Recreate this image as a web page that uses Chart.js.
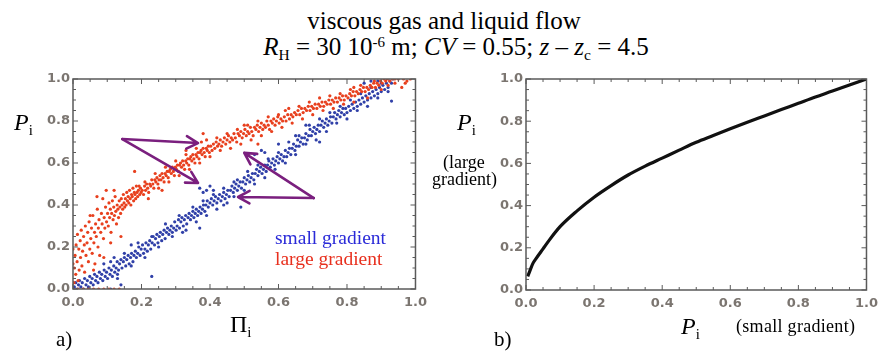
<!DOCTYPE html>
<html><head><meta charset="utf-8">
<script src="https://cdn.jsdelivr.net/npm/chart.js@4.4.1/dist/chart.umd.min.js"></script>
<style>
body{margin:0;background:#fff;width:878px;height:354px;position:relative;overflow:hidden;font-family:"Liberation Serif","DejaVu Serif",serif;}
.t{position:absolute;white-space:nowrap;color:#000;line-height:1;}
.sub{font-size:62%;position:relative;top:0.32em;font-style:normal;}
.sup{font-size:60%;position:relative;top:-0.55em;}
canvas{position:absolute;}
</style></head><body>
<div class="t" style="left:0;width:888px;text-align:center;top:8px;font-size:25px;">viscous gas and liquid flow</div>
<div class="t" style="left:0;width:912px;text-align:center;top:34px;font-size:25px;"><i>R</i><span class="sub">H</span> = 30 10<span class="sup">-6</span> m; <i>CV</i> = 0.55; <i>z</i> – <i>z</i><span class="sub">c</span> = 4.5</div>

<canvas id="left" width="413" height="250" style="left:20px;top:67px;"></canvas>
<canvas id="right" width="414" height="250" style="left:470px;top:67px;"></canvas>

<div class="t" style="left:14px;top:110px;font-size:24px;"><i>P</i><span class="sub">i</span></div>
<div class="t" style="left:230px;top:312px;font-size:24px;">Π<span class="sub">i</span></div>
<div class="t" style="left:56px;top:329px;font-size:21px;">a)</div>
<div class="t" style="left:275px;top:228px;font-size:19.5px;color:#2a2ad8;">small gradient</div>
<div class="t" style="left:275px;top:249px;font-size:19.5px;color:#e8301e;">large gradient</div>

<div class="t" style="left:457px;top:110px;font-size:24px;"><i>P</i><span class="sub">i</span></div>
<div class="t" style="left:443px;top:153px;font-size:18px;">(large</div>
<div class="t" style="left:432px;top:170px;font-size:18px;">gradient)</div>
<div class="t" style="left:681px;top:314px;font-size:24px;"><i>P</i><span class="sub">i</span></div>
<div class="t" style="left:736px;top:317px;font-size:18px;letter-spacing:0.3px;">(small gradient)</div>
<div class="t" style="left:494px;top:329px;font-size:21px;">b)</div>

<script>
const tickValues = [0, 0.2, 0.4, 0.6, 0.8, 1.0];
const minorTickValues = [0.05,0.1,0.15,0.25,0.3,0.35,0.45,0.5,0.55,0.65,0.7,0.75,0.85,0.9,0.95];

const largeGradient = [
[0.003,0.03],[0.004,0.10],[0.006,0.16],[0.008,0.07],[0.009,0.21],[0.012,0.13],[0.013,0.26],[0.015,0.04],[0.017,0.19],[0.018,0.09],
[0.021,0.23],[0.022,0.15],[0.024,0.28],[0.026,0.11],[0.028,0.18],[0.031,0.25],[0.033,0.21],[0.034,0.08],[0.036,0.30],[0.038,0.16],
[0.041,0.22],[0.043,0.27],[0.045,0.13],[0.047,0.32],[0.049,0.19],[0.052,0.24],[0.054,0.29],[0.056,0.17],[0.058,0.35],[0.061,0.22],
[0.063,0.27],[0.064,0.12],[0.066,0.31],[0.068,0.25],[0.071,0.38],[0.073,0.20],[0.074,0.29],[0.076,0.33],[0.078,0.16],[0.081,0.27],
[0.083,0.36],[0.085,0.31],[0.087,0.43],[0.089,0.24],[0.091,0.34],[0.093,0.29],[0.095,0.39],[0.097,0.47],[0.098,0.32],
[0.101,0.36],[0.103,0.30],[0.105,0.41],[0.107,0.34],[0.109,0.38],[0.111,0.27],[0.113,0.36],[0.115,0.42],[0.117,0.33],[0.119,0.39],
[0.121,0.35],[0.123,0.44],[0.125,0.37],[0.127,0.31],[0.129,0.40],[0.131,0.38],[0.133,0.34],[0.135,0.42],[0.137,0.39],[0.139,0.36],
[0.141,0.43],[0.143,0.40],[0.145,0.38],[0.147,0.45],[0.149,0.41],[0.151,0.39],[0.153,0.43],[0.155,0.40],[0.157,0.46],[0.159,0.42],
[0.161,0.44],[0.163,0.41],[0.165,0.47],[0.167,0.43],[0.169,0.40],[0.171,0.45],[0.173,0.44],[0.175,0.48],[0.177,0.42],[0.179,0.46],
[0.181,0.45],[0.183,0.43],[0.185,0.49],[0.187,0.46],[0.189,0.44],[0.191,0.47],[0.193,0.49],[0.195,0.45],[0.197,0.48],[0.199,0.46],
[0.202,0.47],[0.206,0.45],[0.209,0.49],[0.212,0.47],[0.215,0.50],[0.218,0.48],[0.221,0.46],[0.224,0.50],[0.227,0.49],[0.23,0.52],
[0.233,0.50],[0.236,0.48],[0.239,0.52],[0.242,0.51],[0.245,0.53],[0.248,0.50],[0.251,0.52],[0.254,0.54],[0.257,0.52],[0.26,0.55],
[0.263,0.53],[0.266,0.51],[0.269,0.55],[0.272,0.54],[0.275,0.56],[0.278,0.53],[0.281,0.56],[0.284,0.57],[0.287,0.55],[0.29,0.58],
[0.293,0.56],[0.296,0.54],[0.299,0.58],[0.302,0.57],[0.305,0.59],[0.308,0.56],[0.311,0.59],[0.314,0.60],[0.317,0.58],[0.32,0.61],
[0.323,0.59],[0.326,0.57],[0.329,0.61],[0.332,0.60],[0.335,0.62],[0.338,0.59],[0.341,0.62],[0.344,0.63],[0.347,0.61],[0.35,0.64],
[0.353,0.62],[0.356,0.60],[0.359,0.64],[0.362,0.63],[0.365,0.65],[0.368,0.62],[0.371,0.65],[0.374,0.66],[0.377,0.64],[0.38,0.67],
[0.383,0.65],[0.386,0.63],[0.389,0.67],[0.392,0.66],[0.395,0.68],[0.398,0.65],
[0.402,0.68],[0.406,0.66],[0.41,0.69],[0.414,0.67],[0.418,0.70],[0.422,0.68],[0.426,0.69],[0.43,0.71],[0.434,0.68],[0.438,0.70],
[0.442,0.72],[0.446,0.69],[0.45,0.71],[0.454,0.73],[0.458,0.70],[0.462,0.72],[0.466,0.71],[0.47,0.74],[0.474,0.72],[0.478,0.70],
[0.482,0.74],[0.486,0.73],[0.49,0.75],[0.494,0.72],[0.498,0.74],[0.502,0.76],[0.506,0.73],[0.51,0.75],[0.514,0.74],[0.518,0.77],
[0.522,0.75],[0.526,0.73],[0.53,0.77],[0.534,0.76],[0.538,0.78],[0.542,0.75],[0.546,0.77],[0.55,0.79],[0.554,0.76],[0.558,0.78],
[0.562,0.77],[0.566,0.80],[0.57,0.78],[0.574,0.76],[0.578,0.80],[0.582,0.79],[0.586,0.81],[0.59,0.78],[0.594,0.80],[0.598,0.82],
[0.602,0.79],[0.607,0.81],[0.612,0.80],[0.617,0.82],[0.622,0.80],[0.627,0.83],[0.632,0.81],[0.637,0.83],[0.642,0.82],[0.647,0.84],
[0.652,0.83],[0.657,0.85],[0.662,0.83],[0.667,0.86],[0.672,0.84],[0.677,0.86],[0.682,0.85],[0.687,0.87],[0.692,0.85],[0.697,0.87],
[0.702,0.86],[0.707,0.88],[0.712,0.86],[0.717,0.88],[0.722,0.87],[0.727,0.89],[0.732,0.87],[0.737,0.89],[0.742,0.88],[0.747,0.90],
[0.752,0.88],[0.757,0.90],[0.762,0.89],[0.767,0.91],[0.772,0.89],[0.777,0.91],[0.782,0.90],[0.787,0.92],[0.792,0.90],[0.797,0.92],
[0.803,0.91],[0.808,0.93],[0.813,0.92],[0.818,0.94],[0.823,0.92],[0.828,0.94],[0.833,0.93],[0.838,0.95],[0.843,0.94],[0.848,0.96],
[0.853,0.94],[0.858,0.96],[0.863,0.95],[0.868,0.97],[0.873,0.96],[0.878,0.98],[0.883,0.96],[0.888,0.98],[0.893,0.97],[0.898,0.99],
[0.903,0.98],[0.908,1.0],[0.913,0.99],[0.918,1.0],[0.925,0.99],[0.932,1.0],[0.94,1.0],[0.95,1.0],[0.965,1.0],[0.975,0.99],[0.985,1.0],
[0.21,0.51],[0.22,0.43],[0.24,0.55],[0.25,0.48],[0.27,0.58],[0.28,0.51],[0.3,0.61],[0.31,0.54],[0.33,0.64],[0.34,0.57],
[0.36,0.67],[0.37,0.60],[0.39,0.71],[0.4,0.63],[0.42,0.72],[0.43,0.66],[0.45,0.74],[0.46,0.67],[0.48,0.76],[0.49,0.69],
[0.51,0.78],[0.52,0.71],[0.54,0.80],[0.55,0.73],[0.57,0.82],[0.58,0.75],[0.6,0.83],[0.61,0.77],[0.63,0.86],[0.64,0.79],
[0.66,0.87],[0.67,0.81],[0.69,0.89],[0.7,0.83],[0.72,0.91],[0.73,0.85],[0.75,0.92],[0.76,0.86],[0.78,0.93],[0.79,0.88],
[0.81,0.95],[0.82,0.89],[0.84,0.97],[0.86,0.91],[0.88,0.99],[0.9,0.95],[0.92,0.97],[0.94,0.98],[0.97,0.98],
[0.18,0.56],[0.12,0.47],[0.07,0.44],[0.05,0.35],[0.26,0.47],[0.33,0.66],[0.38,0.74],[0.375,0.70],[0.54,0.69],[0.5,0.78],
[0.62,0.85],[0.82,0.96],[0.96,0.96],[0.14,0.25],[0.11,0.22],[0.09,0.15],[0.06,0.09],[0,0.12],[0,0.19],
[0,0],[0.015,0],[0.03,0],[0.045,0],[0.06,0],[0.075,0],[0.09,0],[0.105,0],[0.12,0],[0.135,0]
];

const smallGradient = [
[0.004,0.01],[0.008,0.03],[0.012,0],[0.016,0.02],[0.019,0.04],[0.023,0.01],[0.027,0.03],[0.031,0],[0.034,0.05],[0.038,0.02],
[0.042,0.04],[0.045,0.01],[0.049,0.06],[0.052,0.03],[0.056,0.05],[0.059,0.02],[0.063,0.07],[0.066,0.04],[0.07,0.06],[0.073,0.03],
[0.077,0.08],[0.08,0.05],[0.084,0.07],[0.087,0.04],[0.091,0.09],[0.094,0.06],[0.098,0.08],[0.101,0.05],[0.105,0.10],[0.108,0.07],
[0.112,0.09],[0.115,0.06],[0.119,0.11],[0.122,0.08],[0.126,0.10],[0.129,0.13],[0.133,0.09],[0.136,0.12],[0.14,0.14],[0.143,0.10],
[0.147,0.13],[0.15,0.15],[0.154,0.11],[0.157,0.14],[0.161,0.16],[0.164,0.12],[0.168,0.15],[0.171,0.17],[0.175,0.13],[0.178,0.16],
[0.182,0.18],[0.185,0.15],[0.189,0.17],[0.192,0.20],[0.196,0.16],[0.199,0.19],
[0.203,0.21],[0.206,0.17],[0.21,0.19],[0.213,0.22],[0.217,0.18],[0.22,0.21],[0.224,0.23],[0.227,0.19],[0.231,0.22],[0.234,0.25],
[0.238,0.21],[0.241,0.24],[0.245,0.26],[0.248,0.22],[0.252,0.25],[0.255,0.27],[0.259,0.23],[0.262,0.26],[0.266,0.28],[0.269,0.24],
[0.273,0.27],[0.276,0.29],[0.28,0.26],[0.283,0.28],[0.287,0.30],[0.29,0.27],[0.294,0.29],[0.297,0.32],[0.301,0.28],[0.304,0.30],
[0.308,0.33],[0.311,0.29],[0.315,0.32],[0.318,0.34],[0.322,0.30],[0.325,0.33],[0.329,0.35],[0.332,0.31],[0.336,0.34],[0.339,0.36],
[0.343,0.33],[0.346,0.35],[0.35,0.37],[0.353,0.34],[0.357,0.36],[0.36,0.38],[0.364,0.35],[0.367,0.37],[0.371,0.39],[0.374,0.36],
[0.378,0.38],[0.381,0.40],[0.385,0.37],[0.388,0.40],[0.392,0.42],[0.395,0.39],
[0.4,0.41],[0.404,0.43],[0.408,0.40],[0.412,0.42],[0.416,0.44],[0.42,0.41],[0.424,0.43],[0.428,0.45],[0.432,0.42],[0.436,0.44],
[0.44,0.46],[0.444,0.43],[0.448,0.45],[0.452,0.47],[0.456,0.44],[0.46,0.47],[0.464,0.49],[0.468,0.46],[0.472,0.48],[0.476,0.50],
[0.48,0.47],[0.484,0.49],[0.488,0.51],[0.492,0.48],[0.496,0.51],[0.5,0.53],[0.504,0.50],[0.508,0.52],[0.512,0.54],[0.516,0.51],
[0.52,0.53],[0.524,0.55],[0.528,0.52],[0.532,0.55],[0.536,0.57],[0.54,0.54],[0.544,0.56],[0.548,0.58],[0.552,0.55],[0.556,0.57],
[0.56,0.59],[0.564,0.56],[0.568,0.59],[0.572,0.61],[0.576,0.58],[0.58,0.60],[0.584,0.62],[0.588,0.59],[0.592,0.61],[0.596,0.63],
[0.6,0.60],[0.604,0.62],[0.608,0.64],[0.612,0.61],[0.616,0.63],[0.62,0.66],[0.624,0.63],[0.628,0.65],[0.632,0.67],[0.636,0.64],
[0.64,0.67],[0.644,0.69],[0.648,0.66],[0.652,0.68],[0.656,0.71],[0.66,0.68],[0.664,0.70],[0.668,0.72],[0.672,0.69],[0.676,0.72],
[0.68,0.74],[0.684,0.71],[0.688,0.73],[0.692,0.76],[0.696,0.73],[0.7,0.75],[0.704,0.77],[0.708,0.74],[0.712,0.76],[0.716,0.78],
[0.72,0.75],[0.724,0.78],[0.728,0.80],[0.732,0.77],[0.736,0.79],[0.74,0.81],[0.744,0.78],[0.748,0.80],[0.752,0.82],[0.756,0.79],
[0.76,0.82],[0.764,0.84],[0.768,0.81],[0.772,0.83],[0.776,0.85],[0.78,0.82],[0.784,0.84],[0.788,0.86],[0.792,0.83],[0.796,0.86],
[0.8,0.84],[0.805,0.87],[0.81,0.85],[0.815,0.88],[0.82,0.86],[0.825,0.89],[0.83,0.87],[0.835,0.90],[0.84,0.88],[0.845,0.91],
[0.85,0.89],[0.855,0.92],[0.86,0.90],[0.865,0.93],[0.87,0.91],[0.875,0.94],[0.88,0.92],[0.885,0.95],[0.89,0.93],[0.895,0.96],
[0.9,0.94],[0.905,0.97],[0.91,0.95],[0.915,0.98],[0.92,0.96],[0.925,0.99],[0.93,0.98],[0.935,1.0],
[0.11,0.13],[0.13,0.07],[0.15,0.17],[0.17,0.11],[0.19,0.22],[0.21,0.15],[0.23,0.25],[0.25,0.20],[0.27,0.31],[0.29,0.25],
[0.31,0.35],[0.33,0.28],[0.35,0.39],[0.36,0.32],[0.38,0.42],[0.39,0.35],[0.41,0.45],[0.42,0.38],[0.44,0.48],[0.45,0.41],
[0.47,0.44],[0.48,0.52],[0.5,0.47],[0.51,0.56],[0.53,0.50],[0.54,0.59],[0.56,0.53],[0.57,0.62],[0.59,0.57],[0.6,0.65],
[0.62,0.60],[0.63,0.70],[0.65,0.64],[0.66,0.73],[0.68,0.69],[0.69,0.78],[0.71,0.71],[0.72,0.81],[0.74,0.75],[0.75,0.84],
[0.77,0.79],[0.78,0.87],[0.8,0.81],[0.81,0.90],[0.83,0.85],[0.84,0.93],[0.86,0.87],[0.87,0.96],[0.89,0.91],[0.9,0.98],[0.92,0.94],
[0.23,0.06],[0.37,0.29],[0.49,0.39],[0.37,0.48],[0.39,0.47],[0.4,0.49],[0.38,0.46],[0.56,0.65],[0.55,0.66],[0.53,0.64],
[0.93,0.895],[0.85,0.98],[0.11,0],[0.13,0.05],[0.14,0.02],[0.09,0.12],[0.12,0.15],[0.17,0.21],[0.32,0.27],[0.44,0.40],
[0.47,0.51],[0.6,0.69],[0.68,0.78],[0.87,0.99],[0.41,0.47],[0.65,0.73],[0.72,0.70],[0.89,0.99]
];

const curveP = [
[0.005,0.065],[0.01,0.085],[0.02,0.125],[0.03,0.15],[0.05,0.195],[0.07,0.24],[0.1,0.30],[0.15,0.375],[0.2,0.44],
[0.25,0.495],[0.3,0.545],[0.35,0.587],[0.4,0.625],[0.45,0.663],[0.5,0.70],[0.55,0.732],[0.6,0.764],[0.65,0.795],
[0.7,0.825],[0.75,0.855],[0.8,0.885],[0.85,0.915],[0.9,0.943],[0.95,0.972],[1.0,1.0]
];

const arrowFrom = [[0.144,0.714],[0.144,0.714],[0.703,0.433],[0.703,0.433]];
const arrowTo   = [[0.365,0.695],[0.365,0.505],[0.5,0.648],[0.482,0.438]];

const toXY = a => a.map(p => ({x:p[0], y:p[1]}));

const framePlugin = {
  id:'frame',
  afterDraw(chart){
    const {ctx, chartArea:a, scales:{x,y}} = chart;
    ctx.save();
    ctx.strokeStyle = '#5a5a5a';
    ctx.lineWidth = 1.5;
    ctx.strokeRect(a.left, a.top, a.right-a.left, a.bottom-a.top);
    ctx.lineWidth = 1;
    const drawT = (vals, len) => {
      ctx.beginPath();
      vals.forEach(v => {
        const px = x.getPixelForValue(v), py = y.getPixelForValue(v);
        ctx.moveTo(px, a.bottom); ctx.lineTo(px, a.bottom-len);
        ctx.moveTo(px, a.top); ctx.lineTo(px, a.top+len);
        ctx.moveTo(a.left, py); ctx.lineTo(a.left+len, py);
        ctx.moveTo(a.right, py); ctx.lineTo(a.right-len, py);
      });
      ctx.stroke();
    };
    drawT(tickValues, 5);
    drawT(minorTickValues, 3);
    ctx.restore();
  }
};

const arrowPlugin = {
  id:'arrows',
  afterDatasetsDraw(chart){
    const {ctx, scales:{x,y}} = chart;
    ctx.save();
    ctx.strokeStyle = '#7a1f7e';
    ctx.lineWidth = 2.6;
    ctx.lineCap = 'round';
    ctx.lineJoin = 'round';
    arrowFrom.forEach((f,i) => {
      const t = arrowTo[i];
      const x0 = x.getPixelForValue(f[0]), y0 = y.getPixelForValue(f[1]);
      const x1 = x.getPixelForValue(t[0]), y1 = y.getPixelForValue(t[1]);
      const ang = Math.atan2(y1-y0, x1-x0);
      const L = 13, w = 0.5;
      ctx.beginPath();
      ctx.moveTo(x0,y0); ctx.lineTo(x1,y1);
      ctx.moveTo(x1 - L*Math.cos(ang-w), y1 - L*Math.sin(ang-w));
      ctx.lineTo(x1,y1);
      ctx.lineTo(x1 - L*Math.cos(ang+w), y1 - L*Math.sin(ang+w));
      ctx.stroke();
    });
    ctx.restore();
  }
};

function scales(yWidth, xHeight){
  const tickFont = {family:'"DejaVu Sans", sans-serif', size:13, weight:'bold'};
  return {
    x:{type:'linear', min:0, max:1,
      afterBuildTicks: s => { s.ticks = tickValues.map(v => ({value:v})); },
      afterFit: s => { s.height = xHeight; },
      grid:{display:false, drawTicks:false}, border:{display:false},
      ticks:{color:'#7b7570', font:tickFont, padding:6, maxRotation:0, callback: v => v.toFixed(1)}},
    y:{type:'linear', min:0, max:1,
      afterBuildTicks: s => { s.ticks = tickValues.map(v => ({value:v})); },
      afterFit: s => { s.width = yWidth; },
      grid:{display:false, drawTicks:false}, border:{display:false},
      ticks:{color:'#7b7570', font:tickFont, padding:3, callback: v => v.toFixed(1)}}
  };
}

new Chart(document.getElementById('left'), {
  type:'scatter',
  data:{datasets:[
    {label:'large gradient', data:toXY(largeGradient), backgroundColor:'#e8401e', borderColor:'#e8401e', pointRadius:1.6, pointBorderWidth:0},
    {label:'small gradient', data:toXY(smallGradient), backgroundColor:'#3040a8', borderColor:'#3040a8', pointRadius:1.6, pointBorderWidth:0}
  ]},
  options:{responsive:false, animation:false, events:[],
    layout:{padding:{top:12, right:4, left:0, bottom:0}},
    plugins:{legend:{display:false}, tooltip:{enabled:false}},
    scales:scales(53, 28)},
  plugins:[framePlugin, arrowPlugin]
});

new Chart(document.getElementById('right'), {
  type:'scatter',
  data:{datasets:[
    {label:'P', data:toXY(curveP), showLine:true, borderColor:'#111', borderWidth:3.2, pointRadius:0, cubicInterpolationMode:'monotone'}
  ]},
  options:{responsive:false, animation:false, events:[],
    layout:{padding:{top:12, right:2, left:0, bottom:0}},
    plugins:{legend:{display:false}, tooltip:{enabled:false}},
    scales:scales(56, 27)},
  plugins:[framePlugin]
});
</script>
</body></html>
